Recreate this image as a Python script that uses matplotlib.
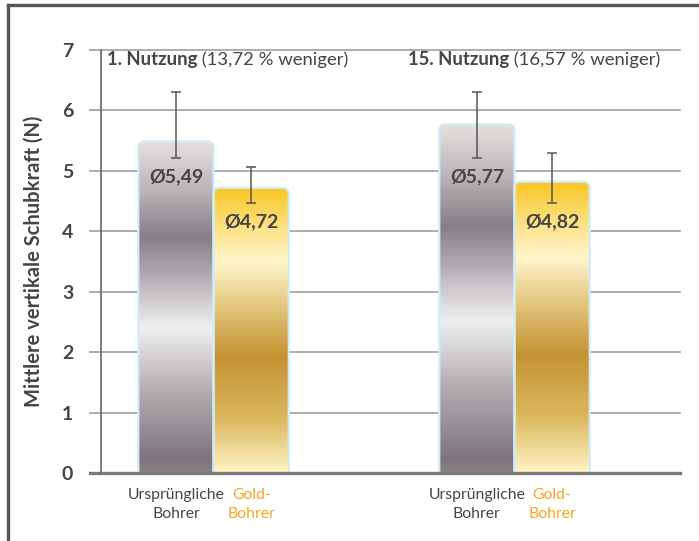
import matplotlib
matplotlib.use("Agg")
import matplotlib.pyplot as plt
import numpy as np
from matplotlib.colors import LinearSegmentedColormap
from matplotlib.patches import FancyBboxPatch
from matplotlib.lines import Line2D

plt.rcParams['font.family'] = ['Lato', 'DejaVu Sans']

# data
groups = ['1. Nutzung', '15. Nutzung']
notes = ['(13,72 % weniger)', '(16,57 % weniger)']
orig_mean = [5.49, 5.77]
orig_low = [5.22, 5.22]
orig_high = [6.31, 6.31]
gold_mean = [4.72, 4.82]
gold_low = [4.47, 4.47]
gold_high = [5.07, 5.29]
orig_labels = ['Ø5,49', 'Ø5,77']
gold_labels = ['Ø4,72', 'Ø4,82']
xlabels = ['Ursprüngliche\nBohrer', 'Gold-\nBohrer']

dark = '#454545'
orange = '#f5a623'
grid_c = '#a0a0a0'

silver = LinearSegmentedColormap.from_list('silver', [
    (0.0, '#8a8288'), (0.04, '#7d757b'), (0.25, '#b4aeb3'), (0.436, '#f0eff0'),
    (0.6, '#b0aab0'), (0.71, '#867e85'), (0.85, '#b9b4b7'), (1.0, '#e4e1df')])
gold = LinearSegmentedColormap.from_list('gold', [
    (0.0, '#fff5c6'), (0.186, '#dcb860'), (0.407, '#c59232'), (0.6, '#e6cb86'),
    (0.737, '#fff6cc'), (0.85, '#fde38a'), (1.0, '#f9c623')])

fig = plt.figure(figsize=(6.99, 5.41), dpi=100)
ax = fig.add_axes([101 / 699, 68 / 541, 579 / 699, 423 / 541])

x = np.arange(len(groups))
w = 0.25


def gradient_bars(xpos, heights, cmap):
    bars = ax.bar(xpos, heights, w, color='none', edgecolor='none')
    for b in bars:
        x0, h = b.get_x(), b.get_height()
        patch = FancyBboxPatch((x0, -0.3), w, h + 0.3,
                               boxstyle='round,pad=0,rounding_size=0.02',
                               mutation_aspect=5.0, facecolor='none',
                               edgecolor='#d3edf8', lw=1.6, zorder=3)
        ax.add_patch(patch)
        grad = np.linspace(0, 1, 256).reshape(-1, 1)
        im = ax.imshow(grad, cmap=cmap, origin='lower', aspect='auto',
                       extent=(x0, x0 + w, 0, h), zorder=2)
        im.set_clip_path(patch)
    return bars


gradient_bars(x - w / 2, orig_mean, silver)
gradient_bars(x + w / 2, gold_mean, gold)
ax.set_aspect('auto')
ax.set_xlim(-0.374, 1.55)
ax.set_ylim(0, 7)

# error bars
for xs, m, lo, hi in [(x - w / 2, orig_mean, orig_low, orig_high),
                      (x + w / 2, gold_mean, gold_low, gold_high)]:
    m = np.array(m)
    yerr = [m - np.array(lo), np.array(hi) - m]
    ax.errorbar(xs, m, yerr=yerr, fmt='none', ecolor='#555555', elinewidth=1.1,
                capsize=3.5, capthick=1.1, zorder=4)

# value labels
for i in range(len(groups)):
    ax.text(x[i] - w / 2, 4.9, orig_labels[i], ha='center', va='center',
            fontsize=14, fontweight='bold', color=dark, zorder=5)
    ax.text(x[i] + w / 2, 4.15, gold_labels[i], ha='center', va='center',
            fontsize=14, fontweight='bold', color=dark, zorder=5)
    t1 = ax.text(x[i] - 0.355, 6.84, groups[i], ha='left', va='center',
                 fontsize=13.3, fontweight='bold', color=dark)
    ax.annotate(' ' + notes[i], xy=(1, 0.5), xycoords=t1, ha='left', va='center',
                fontsize=13.3, color=dark)

# gridlines
for v in range(1, 8):
    ax.axhline(v, xmin=-0.019, xmax=1, color=grid_c, lw=1.2, clip_on=False, zorder=1)
ax.axhline(0, xmin=-0.019, xmax=1, color='#7a7a7a', lw=2.4, clip_on=False, zorder=6)

for s in ['top', 'right', 'bottom']:
    ax.spines[s].set_visible(False)
ax.spines['left'].set_color('#666666')
ax.spines['left'].set_linewidth(1.2)
ax.spines['left'].set_zorder(6)

ax.set_yticks(range(8))
ax.set_yticklabels([str(v) for v in range(8)], fontsize=14, fontweight='bold', color=dark)
ax.tick_params(axis='y', length=0, pad=20)

ticks = list(x - w / 2) + list(x + w / 2)
ax.set_xticks(sorted(ticks))
ax.set_xticklabels(xlabels * len(groups), fontsize=11.3, linespacing=1.4)
ax.tick_params(axis='x', length=0, pad=11)
for lbl, c in zip(ax.get_xticklabels(), [dark, orange] * len(groups)):
    lbl.set_color(c)

ax.set_ylabel('Mittlere vertikale Schubkraft (N)', fontsize=14.5, fontweight='bold',
              color=dark, labelpad=13)

# outer frame
fig.add_artist(Line2D([8 / 699, 8 / 699], [0, 1 - 5 / 541], transform=fig.transFigure,
                      color='#555555', lw=2.4))
fig.add_artist(Line2D([8 / 699, 1], [1 - 5 / 541, 1 - 5 / 541], transform=fig.transFigure,
                      color='#555555', lw=2.4))

fig.savefig('out.png', dpi=100)
